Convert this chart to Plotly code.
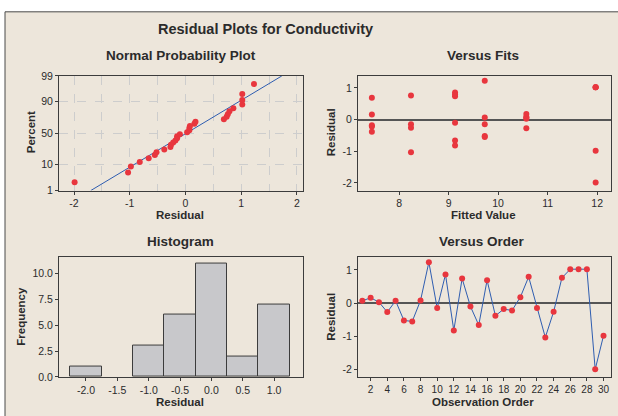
import plotly.graph_objects as go
from statistics import NormalDist, mean, stdev

# ---------------- data ----------------
observation = list(range(1, 31))
residuals = [0.07, 0.16, 0.03, -0.27, 0.07, -0.52, -0.55, 0.08, 1.23, -0.15,
             0.86, -0.82, 0.74, -0.10, -0.66, 0.69, -0.38, -0.18, -0.22, 0.18,
             0.79, -0.15, -1.03, -0.26, 0.76, 1.02, 1.02, 1.02, -1.99, -0.98]
fitted = [10.57, 7.45, 10.57, 10.57, 9.73, 9.73, 9.73, 10.57, 9.73, 8.24,
          9.13, 9.13, 9.13, 9.13, 9.13, 7.45, 7.45, 7.45, 7.45, 10.57,
          9.13, 9.73, 8.24, 8.24, 8.24, 11.97, 11.97, 11.97, 11.97, 11.97]
pct_ticks = [1, 10, 50, 90, 99]
pct_labels = ["1", "10", "50", "90", "99"]
npp_ticks = [-2, -1, 0, 1, 2]
npp_labels = ["-2", "-1", "0", "1", "2"]
fit_ticks = [8, 9, 10, 11, 12]
fit_labels = ["8", "9", "10", "11", "12"]
res_ticks = [-2, -1, 0, 1]
res_labels = ["-2", "-1", "0", "1"]
hist_ticks = [-2.0, -1.5, -1.0, -0.5, 0.0, 0.5, 1.0]
hist_labels = ["-2.0", "-1.5", "-1.0", "-0.5", "0.0", "0.5", "1.0"]
freq_ticks = [0.0, 2.5, 5.0, 7.5, 10.0]
freq_labels = ["0.0", "2.5", "5.0", "7.5", "10.0"]
order_ticks = list(range(2, 31, 2))

W, H = 618, 416
BG = "#EDE6DB"
RED = "#E8363E"
BLUE = "#2F5DB0"
FRAME = "#3C3C3C"
TXT = "#2B2B2B"
GRID = "#CDCDCD"
FONT = "Liberation Sans"

nd = NormalDist()
n = len(residuals)
sorted_res = sorted(residuals)
zpos = [nd.inv_cdf((i + 1 - 0.3) / (n + 0.4)) for i in range(n)]
mu, sd = mean(residuals), stdev(residuals)
zline = [nd.inv_cdf(0.01), nd.inv_cdf(0.99)]
xline = [mu + sd * z for z in zline]


def px(x):
    return x / W


def py(y):
    return 1 - y / H


fig = go.Figure()

# Normal probability plot
fig.add_trace(go.Scatter(x=xline, y=zline, mode="lines", line=dict(color=BLUE, width=1),
                         xaxis="x", yaxis="y", showlegend=False, hoverinfo="skip"))
fig.add_trace(go.Scatter(x=sorted_res, y=zpos, mode="markers",
                         marker=dict(color=RED, size=6), xaxis="x", yaxis="y", showlegend=False))
# Versus fits
fig.add_trace(go.Scatter(x=fitted, y=residuals, mode="markers",
                         marker=dict(color=RED, size=6), xaxis="x2", yaxis="y2", showlegend=False))
# Histogram
fig.add_trace(go.Histogram(x=residuals, xbins=dict(start=-2.25, end=1.25, size=0.5),
                           marker=dict(color="#C8C8CB", line=dict(color=FRAME, width=1)),
                           xaxis="x3", yaxis="y3", showlegend=False))
# Versus order
fig.add_trace(go.Scatter(x=observation, y=residuals, mode="lines+markers",
                         line=dict(color=BLUE, width=1),
                         marker=dict(color=RED, size=6), xaxis="x4", yaxis="y4", showlegend=False))

tickfont = dict(family=FONT, size=10.5, color=TXT)
common = dict(showline=True, linecolor=FRAME, linewidth=1, mirror=True, ticks="outside",
              ticklen=3, tickcolor=FRAME, tickfont=tickfont, showgrid=False, zeroline=False,
              fixedrange=True)

xd1 = [px(59), px(303)]
xd2 = [px(358), px(611)]
yd1 = [py(190), py(72)]
yd2 = [py(382), py(258)]

fig.update_layout(
    width=W, height=H,
    margin=dict(l=0, r=0, t=0, b=0),
    paper_bgcolor="white", plot_bgcolor="white",
    bargap=0,
    xaxis=dict(common, domain=xd1, range=[-2.27, 2.11], tickvals=npp_ticks, ticktext=npp_labels,
               showgrid=True, gridcolor=GRID, griddash="dash", gridwidth=1,
               minor=dict(dtick=0.5, showgrid=True, gridcolor=GRID, griddash="dash"),
               anchor="y"),
    yaxis=dict(common, domain=yd1, range=zline,
               tickvals=[nd.inv_cdf(p / 100) for p in pct_ticks], ticktext=pct_labels,
               showgrid=True, gridcolor=GRID, griddash="dash", anchor="x"),
    xaxis2=dict(common, domain=xd2, range=[7.17, 12.28], tickvals=fit_ticks, ticktext=fit_labels,
                anchor="y2"),
    yaxis2=dict(common, domain=yd1, range=[-2.24, 1.38], tickvals=res_ticks, ticktext=res_labels,
                zeroline=True, zerolinecolor="#555555", zerolinewidth=2, anchor="x2"),
    xaxis3=dict(common, domain=xd1, range=[-2.43, 1.46], tickvals=hist_ticks, ticktext=hist_labels,
                anchor="y3"),
    yaxis3=dict(common, domain=yd2, range=[0, 11.64], tickvals=freq_ticks, ticktext=freq_labels,
                anchor="x3"),
    xaxis4=dict(common, domain=xd2, range=[0.48, 30.9], tickvals=order_ticks,
                tickfont=dict(family=FONT, size=10, color=TXT), anchor="y4"),
    yaxis4=dict(common, domain=yd2, range=[-2.22, 1.40], tickvals=res_ticks, ticktext=res_labels,
                zeroline=True, zerolinecolor="#555555", zerolinewidth=2, anchor="x4"),
)

# outer beige panel with frame
fig.add_shape(type="rect", xref="paper", yref="paper", x0=px(5), x1=1.02, y0=-0.02, y1=py(6),
              fillcolor=BG, line=dict(color="#4A4A4A", width=1), layer="below")


def ann(text, x, y, size, bold=True, angle=0):
    fig.add_annotation(text=f"<b>{text}</b>" if bold else text, x=px(x), y=py(y),
                       xref="paper", yref="paper", showarrow=False, textangle=angle,
                       xanchor="center", yanchor="middle",
                       font=dict(family=FONT, size=size, color=TXT))


ann("Residual Plots for Conductivity", 265.5, 24, 14.5)
ann("Normal Probability Plot", 180.5, 51, 13.5)
ann("Versus Fits", 482.6, 51, 13.5)
ann("Histogram", 180, 243, 13.5)
ann("Versus Order", 482, 243, 13.5)
ann("Residual", 179.5, 215, 11.5)
ann("Fitted Value", 483.5, 215, 11.5)
ann("Residual", 179.5, 407.5, 11.5)
ann("Observation Order", 483.5, 407.5, 11.5)
ann("Percent", 31, 130, 11.5, angle=-90)
ann("Residual", 331, 130, 11.5, angle=-90)
ann("Frequency", 21, 320, 11.5, angle=-90)
ann("Residual", 331, 320, 11.5, angle=-90)

fig.write_html("out.html", config={"displayModeBar": False},
               post_script="document.body.style.margin='0';")
